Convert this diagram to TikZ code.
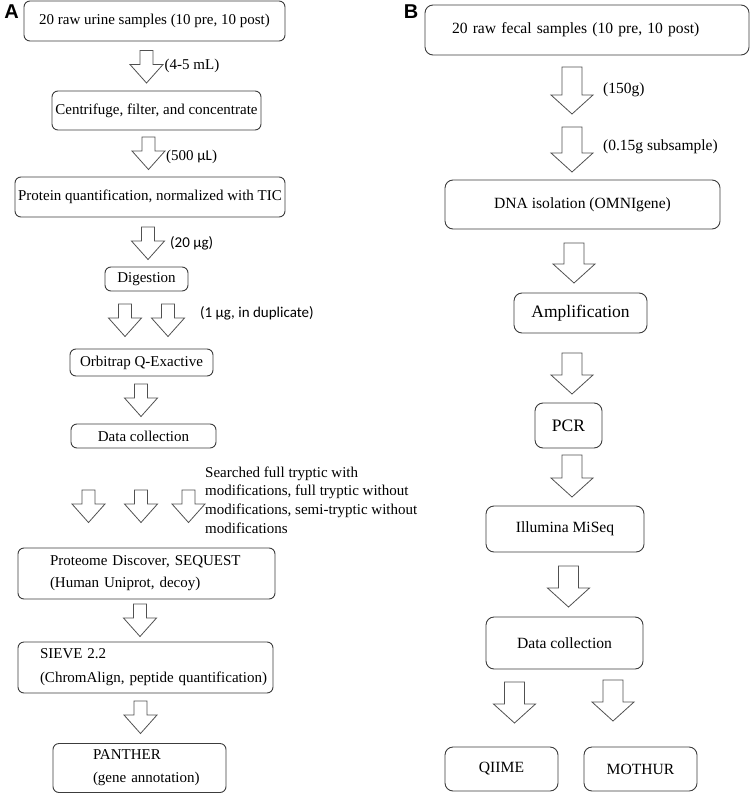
\documentclass[tikz,border=0pt]{standalone}
\usepackage{fontspec}
\setmainfont{Liberation Serif}
\setsansfont{Liberation Sans}
\newfontfamily\califont{Carlito}
\definecolor{boxgray}{HTML}{3C3C3C}
\definecolor{arrowgray}{HTML}{505050}
\tikzset{
  stepbox/.style={draw=boxgray,line width=0.9pt,rounded corners=6pt,inner sep=0pt,font=\fontsize{15}{18}\selectfont},
  stepboxB/.style={stepbox,rounded corners=8pt,font=\fontsize{15.6}{19}\selectfont},
  note/.style={inner sep=0pt,anchor=west,font=\fontsize{15}{18}\selectfont},
  calnote/.style={note,font=\califont\fontsize{15}{18}\selectfont},
  panel/.style={inner sep=0pt,font=\sffamily\bfseries\fontsize{20}{24}\selectfont},
  arrowline/.style={draw=arrowgray,line width=0.8pt,line join=miter},
  pics/smallarrow/.style={code={
    \draw[arrowline] (-6.5,0)--(6.5,0)--(6.5,14)--(16.5,14)--(0,32.5)--(-16.5,14)--(-6.5,14)--cycle;}},
  pics/bigarrow/.style={code={
    \draw[arrowline] (-10,0)--(10,0)--(10,#1-19)--(21,#1-19)--(0,#1)--(-21,#1-19)--(-10,#1-19)--cycle;}},
}
\begin{document}
\begin{tikzpicture}[x=1pt,y=-1pt]
      \useasboundingbox (0,0) rectangle (750,794);
      \node[panel] (lblA) at (11.5,11.5) {A};
      \node[stepbox,minimum width=261pt,minimum height=40pt] (urine) at (154.5,21) {20 raw urine samples (10 pre, 10 post)};
      \pic at (146.5,50.5) {smallarrow};
      \node[note] (vol45) at (164.5,66) {(4-5 mL)};
      \node[stepbox,minimum width=209pt,minimum height=39pt] (centrifuge) at (156.5,110.5) {Centrifuge, filter, and concentrate};
      \pic at (148.5,137) {smallarrow};
      \node[note] (vol500) at (166,157) {(500 {\califont µL})};
      \node[stepbox,minimum width=270pt,minimum height=40pt] (protein) at (150,197) {Protein quantification, normalized with TIC};
      \pic at (148,227) {smallarrow};
      \node[calnote] (mass20) at (170,243) {(20 µg)};
      \node[stepbox,minimum width=83pt,minimum height=24pt] (digest) at (146.5,279) {Digestion};
      \pic at (125,304) {smallarrow};
      \pic at (168,304) {smallarrow};
      \node[calnote] (dup) at (200,313) {(1 µg, in duplicate)};
      \node[stepbox,minimum width=143pt,minimum height=27pt] (orbitrap) at (141.5,362.5) {Orbitrap Q-Exactive};
      \pic at (141,384) {smallarrow};
      \node[stepbox,minimum width=145pt,minimum height=24pt] (datacolA) at (143.5,436) {Data collection};
      \foreach \ax in {88.5,141,188.5}
        \pic at (\ax,490) {smallarrow};
      \node[note,align=left,font=\fontsize{15}{18.7}\selectfont] (search) at (205,500) {Searched full tryptic with\\modifications, full tryptic without\\modifications, semi-tryptic without\\modifications};
      \node[stepbox,minimum width=257pt,minimum height=51pt,inner xsep=32pt,text width=193pt,align=left,font=\fontsize{15}{22}\selectfont] (proteome) at (146.5,573.5) {Proteome Discover, SEQUEST\\(Human Uniprot, decoy)};
      \pic at (140,604) {smallarrow};
      \node[stepbox,minimum width=255pt,minimum height=51pt,inner xsep=22pt,text width=211pt,align=left,font=\fontsize{15}{24}\selectfont] (sieve) at (145.5,667.5) {SIEVE 2.2\\\mbox{(ChromAlign, peptide quantification)}};
      \pic at (140.5,701) {smallarrow};
      \node[stepbox,minimum width=173pt,minimum height=49pt,inner xsep=40pt,text width=93pt,align=left,font=\fontsize{15}{23}\selectfont] (panther) at (139.5,768) {PANTHER\\\mbox{(gene annotation)}};
      \node[panel] (lblB) at (411,12) {B};
      \node[stepboxB,minimum width=324pt,minimum height=50pt,inner xsep=27pt,text width=270pt,align=left] (fecal) at (587,30) {20 raw fecal samples (10 pre, 10 post)};
      \pic at (572,67) {bigarrow=47};
      \node[note,font=\fontsize{15.5}{18}\selectfont] (mass150) at (603,90) {(150g)};
      \pic at (572,127) {bigarrow=45};
      \node[note,font=\fontsize{15.5}{18}\selectfont] (sub015) at (603,147) {(0.15g subsample)};
      \node[stepboxB,minimum width=275pt,minimum height=49pt] (dna) at (582.5,204.5) {DNA isolation (OMNIgene)};
      \pic at (574,243) {bigarrow=40};
      \node[stepboxB,minimum width=133pt,minimum height=40pt,font=\fontsize{17.5}{21}\selectfont] (amplify) at (580.5,313) {Amplification};
      \pic at (572,353) {bigarrow=41};
      \node[stepboxB,minimum width=67pt,minimum height=45pt,font=\fontsize{17.5}{21}\selectfont] (pcr) at (568.5,425.5) {PCR};
      \pic at (572,455) {bigarrow=42};
      \node[stepboxB,minimum width=158pt,minimum height=46pt] (illumina) at (565,529) {Illumina MiSeq};
      \pic at (568.5,566) {bigarrow=41};
      \node[stepboxB,minimum width=157pt,minimum height=52pt] (datacolB) at (564.5,643) {Data collection};
      \pic at (514.5,682) {bigarrow=41};
      \pic at (613,680) {bigarrow=41};
      \node[stepboxB,minimum width=113pt,minimum height=44pt] (qiime) at (501.5,769) {QIIME};
      \node[stepboxB,minimum width=113pt,minimum height=44pt] (mothur) at (640.5,769) {MOTHUR};
\end{tikzpicture}
\end{document}
